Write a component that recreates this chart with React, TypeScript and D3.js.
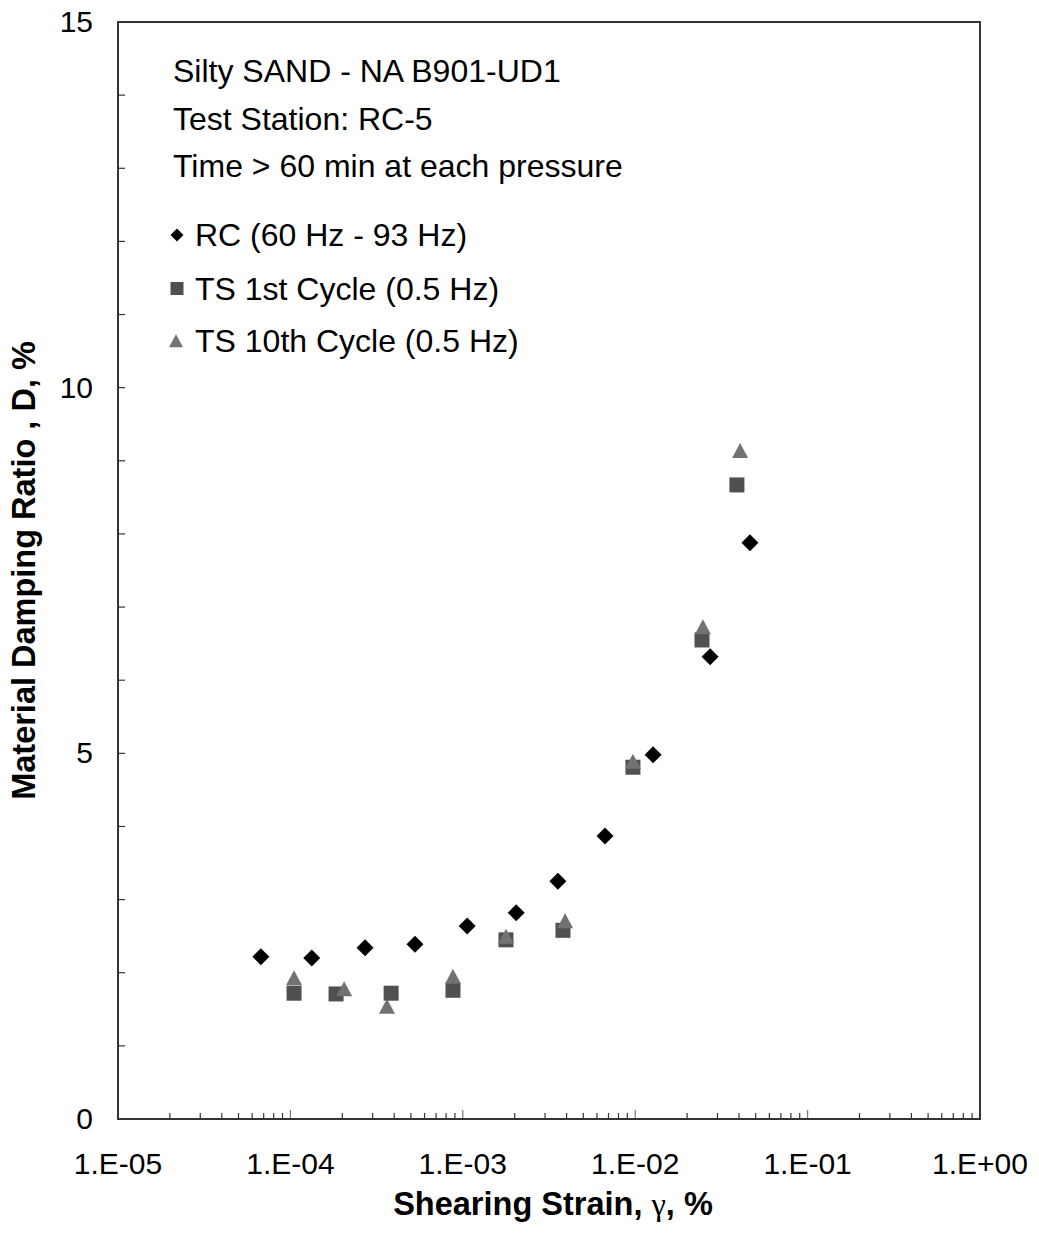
import React from "react";
import * as d3 from "d3";

const rcStrain = [6.74e-5, 1.33e-4, 2.71e-4, 5.28e-4, 1.06e-3, 2.04e-3, 3.56e-3, 6.68e-3, 1.27e-2, 2.72e-2, 4.63e-2];
const rcDamping = [2.22, 2.2, 2.34, 2.39, 2.64, 2.82, 3.25, 3.87, 4.98, 6.32, 7.88];

const ts1Strain = [1.05e-4, 1.84e-4, 3.84e-4, 8.77e-4, 1.78e-3, 3.81e-3, 9.7e-3, 2.44e-2, 3.89e-2];
const ts1Damping = [1.72, 1.71, 1.72, 1.76, 2.45, 2.58, 4.81, 6.55, 8.67];

const ts10Strain = [1.05e-4, 2.05e-4, 3.63e-4, 8.77e-4, 1.78e-3, 3.92e-3, 9.7e-3, 2.47e-2, 4.06e-2];
const ts10Damping = [1.91, 1.76, 1.52, 1.93, 2.48, 2.69, 4.87, 6.71, 9.12];

const xTickValues = [1e-5, 1e-4, 1e-3, 1e-2, 1e-1, 1];
const xTickLabels = ["1.E-05", "1.E-04", "1.E-03", "1.E-02", "1.E-01", "1.E+00"];
const yTickValues = [0, 5, 10, 15];

const annotationLines = ["Silty SAND - NA B901-UD1", "Test Station: RC-5", "Time > 60 min at each pressure"];
const legendLabels = ["RC (60 Hz - 93 Hz)", "TS 1st Cycle (0.5 Hz)", "TS 10th Cycle (0.5 Hz)"];

const FONT = "'Liberation Sans', Arial, Helvetica, sans-serif";

export default function App() {
  const W = 1039, H = 1241;
  const L = 118, R = 980, T = 22, B = 1119;
  const x = d3.scaleLog().domain([1e-5, 1]).range([L, R]);
  const y = d3.scaleLinear().domain([0, 15]).range([B, T]);

  const minorX: number[] = [];
  for (let e = -5; e < 0; e++) {
    for (let m = 2; m <= 9; m++) minorX.push(m * Math.pow(10, e));
  }
  const minorY = d3.range(0, 16);

  const diamond = (cx: number, cy: number, r: number) =>
    `M${cx},${cy - r}L${cx + r},${cy}L${cx},${cy + r}L${cx - r},${cy}Z`;
  const tri = (cx: number, cy: number, w: number, h: number) =>
    `M${cx},${cy - h * 0.6}L${cx + w / 2},${cy + h * 0.4}L${cx - w / 2},${cy + h * 0.4}Z`;

  const squareFill = "#505050";
  const triFill = "#727272";

  return (
    <svg width={W} height={H} style={{ position: "absolute", left: 0, top: 0, background: "#fff" }} fontFamily={FONT}>
      <rect x={0} y={0} width={W} height={H} fill="#fff" />
      {minorX.map((v, i) => (
        <line key={"mx" + i} x1={x(v)} x2={x(v)} y1={B} y2={B - 6} stroke="#333" strokeWidth={1.2} />
      ))}
      {xTickValues.map((v, i) => (
        <line key={"Mx" + i} x1={x(v)} x2={x(v)} y1={B} y2={B - 9} stroke="#777" strokeWidth={1.2} />
      ))}
      {minorY.map((v, i) => (
        <line key={"my" + i} x1={L} x2={L + 7} y1={y(v)} y2={y(v)} stroke="#333" strokeWidth={1.2} />
      ))}
      <rect x={L} y={T} width={R - L} height={B - T} fill="none" stroke="#333" strokeWidth={2} />

      {xTickValues.map((v, i) => (
        <text key={"xl" + i} x={x(v)} y={1174} fontSize={30} textAnchor="middle" fill="#000">
          {xTickLabels[i]}
        </text>
      ))}
      {yTickValues.map((v, i) => (
        <text key={"yl" + i} x={93} y={y(v) + 10} fontSize={30} textAnchor="end" fill="#000">
          {v}
        </text>
      ))}

      <text x={(L + R) / 2 + 4} y={1215} fontSize={32.5} fontWeight="bold" textAnchor="middle" fill="#000">
        Shearing Strain, <tspan fontFamily="'Liberation Serif', 'Times New Roman', serif" fontWeight="normal">γ</tspan>, %
      </text>
      <text
        transform={`translate(35,${(T + B) / 2}) rotate(-90)`}
        fontSize={32.5}
        fontWeight="bold"
        textAnchor="middle"
        fill="#000"
      >
        Material Damping Ratio , D, %
      </text>

      {annotationLines.map((t, i) => (
        <text key={"an" + i} x={173} y={82 + i * 47.5} fontSize={32} fill="#000">
          {t}
        </text>
      ))}

      <path d={diamond(177, 235, 6.5)} fill="#000" />
      <text x={195} y={246} fontSize={32} fill="#000">{legendLabels[0]}</text>
      <rect x={170.5} y={282} width={13} height={13} fill={squareFill} />
      <text x={195} y={300} fontSize={32} fill="#000">{legendLabels[1]}</text>
      <path d={tri(176, 342, 14, 13)} fill={triFill} />
      <text x={195} y={352} fontSize={32} fill="#000">{legendLabels[2]}</text>

      {rcStrain.map((s, i) => (
        <path key={"rc" + i} d={diamond(x(s), y(rcDamping[i]), 8.5)} fill="#000" />
      ))}
      {ts1Strain.map((s, i) => (
        <rect key={"t1" + i} x={x(s) - 7.5} y={y(ts1Damping[i]) - 7.5} width={15} height={15} fill={squareFill} />
      ))}
      {ts10Strain.map((s, i) => (
        <path key={"t10" + i} d={tri(x(s), y(ts10Damping[i]), 16, 15)} fill={triFill} />
      ))}
    </svg>
  );
}
